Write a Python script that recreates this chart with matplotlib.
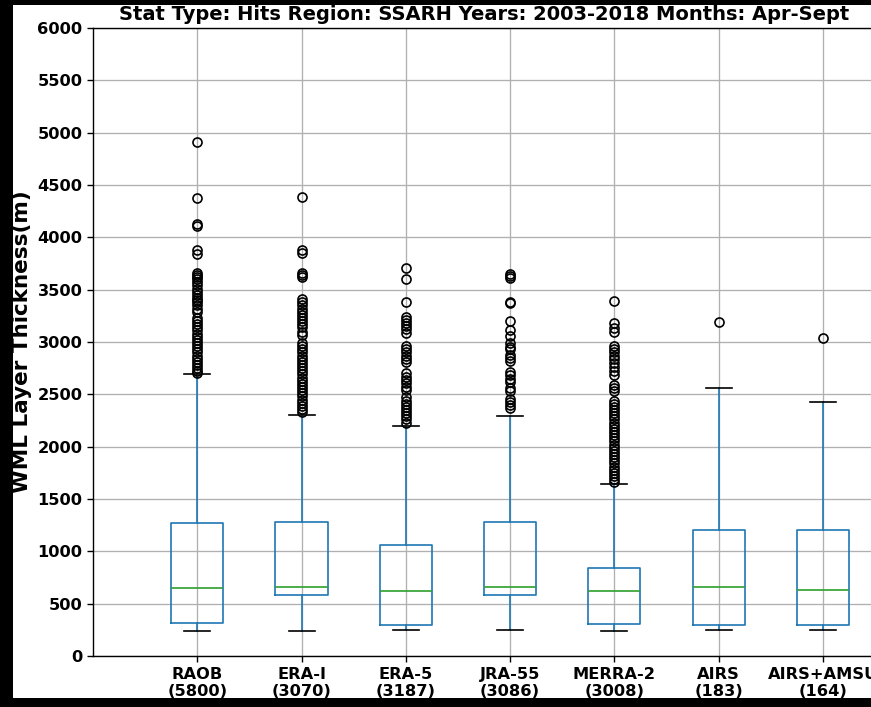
import matplotlib
matplotlib.use('Agg')
import matplotlib.pyplot as plt
from matplotlib.patches import Rectangle

# Data
labels = ['RAOB\n(5800)', 'ERA-I\n(3070)', 'ERA-5\n(3187)', 'JRA-55\n(3086)',
          'MERRA-2\n(3008)', 'AIRS\n(183)', 'AIRS+AMSU\n(164)']
q1 = [312, 583, 296, 583, 303, 296, 296]
median = [653, 662, 621, 656, 621, 656, 628]
q3 = [1270, 1280, 1060, 1280, 844, 1204, 1204]
whis_lo = [239, 242, 245, 245, 239, 245, 245]
whis_hi = [2690, 2302, 2195, 2290, 1645, 2558, 2430]

raob_fliers = [4910, 4380, 4125, 4105, 3880, 3840, 3660, 3640, 3620, 3600, 3570,
               3540, 3510, 3480, 3450, 3420, 3400, 3380, 3350, 3320, 3290, 3230,
               3200, 3170, 3140, 3110, 3080, 3050, 3020, 2990, 2960, 2930, 2900,
               2870, 2840, 2810, 2780, 2750, 2720, 2700]
era_i_fliers = [4390, 3880, 3855, 3660, 3640, 3620, 3410, 3380, 3350, 3320, 3290,
                3260, 3230, 3200, 3170, 3140, 3100, 3070, 2990, 2960, 2930, 2900,
                2870, 2840, 2810, 2780, 2750, 2720, 2690, 2660, 2630, 2600, 2570,
                2540, 2510, 2480, 2450, 2420, 2390, 2360, 2330]
era5_fliers = [3710, 3600, 3380, 3240, 3210, 3180, 3150, 3120, 3090, 2960, 2930,
               2900, 2870, 2840, 2810, 2700, 2670, 2640, 2610, 2570, 2540, 2470,
               2440, 2410, 2380, 2350, 2320, 2290, 2260, 2230]
jra55_fliers = [3650, 3630, 3610, 3380, 3370, 3200, 3110, 3060, 2990, 2950, 2930,
                2880, 2850, 2820, 2710, 2680, 2650, 2620, 2560, 2530, 2460, 2430,
                2400, 2370]
merra2_fliers = [3390, 3180, 3130, 3100, 2960, 2930, 2900, 2870, 2840, 2800, 2760,
                 2720, 2680, 2590, 2560, 2530, 2440, 2410, 2380, 2350, 2320, 2290,
                 2260, 2230, 2200, 2170, 2140, 2110, 2080, 2050, 2020, 1990, 1960,
                 1930, 1900, 1870, 1840, 1810, 1780, 1750, 1720, 1690, 1660]
airs_fliers = [3190]
airs_amsu_fliers = [3035]
fliers = [raob_fliers, era_i_fliers, era5_fliers, jra55_fliers,
          merra2_fliers, airs_fliers, airs_amsu_fliers]

title = 'Stat Type: Hits Region: SSARH Years: 2003-2018 Months: Apr-Sept'

fig = plt.figure(figsize=(8.71, 7.07), dpi=100, facecolor='black')
# white page area (reference is a cropped screenshot on black)
page = Rectangle((13 / 871, 9 / 707), 1, 693 / 707, transform=fig.transFigure,
                 facecolor='white', edgecolor='none', zorder=-10)
fig.add_artist(page)

ax = fig.add_axes([93 / 871, 51 / 707, 782 / 871, 628 / 707])
ax.set_facecolor('white')

stats = []
for i in range(len(labels)):
    stats.append({'label': labels[i], 'q1': q1[i], 'med': median[i], 'q3': q3[i],
                  'whislo': whis_lo[i], 'whishi': whis_hi[i], 'fliers': fliers[i]})

ax.bxp(stats, positions=range(1, len(labels) + 1), widths=0.5,
       boxprops=dict(color='#1f77b4', linewidth=1.2),
       whiskerprops=dict(color='#1f77b4', linewidth=1.2),
       medianprops=dict(color='#2ca02c', linewidth=1.2),
       capprops=dict(color='black', linewidth=1.2),
       flierprops=dict(marker='o', markerfacecolor='none', markeredgewidth=1.2,
                       markeredgecolor='black', markersize=6.5))

ax.set_xlim(0, 7.5)
ax.set_ylim(0, 6000)
ax.set_yticks(range(0, 6001, 500))
ax.grid(True, color='#b0b0b0', linewidth=0.95)
ax.set_axisbelow(True)
for sp in ax.spines.values():
    sp.set_linewidth(1.0)
ax.tick_params(length=4.1, width=1.0)

for lab in ax.get_xticklabels() + ax.get_yticklabels():
    lab.set_fontweight('bold')
    lab.set_fontsize(11.7)

ax.set_ylabel('WML Layer Thickness(m)', fontsize=15.5, fontweight='bold')
ax.yaxis.set_label_coords(-0.078, 0.5)
ax.set_title(title, fontsize=14, fontweight='bold')

fig.savefig('out.png', dpi=100, facecolor=fig.get_facecolor())
